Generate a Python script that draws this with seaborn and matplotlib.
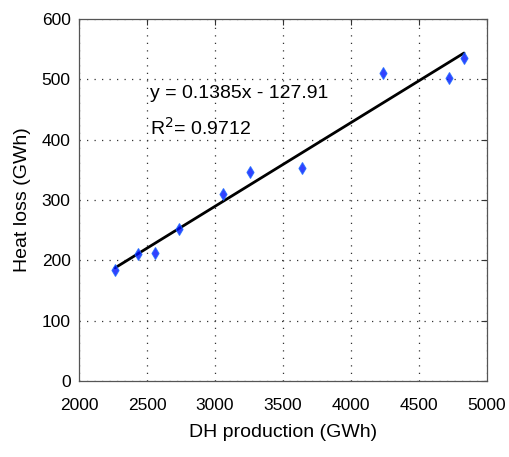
import matplotlib
matplotlib.use("Agg")
from matplotlib import pyplot as plt
import pandas as pd
import seaborn as sns

# DH production vs heat loss (GWh)
dh_production = [2265, 2436, 2559, 2735, 3059, 3257, 3640, 4235, 4721, 4831]
heat_loss = [184, 210, 212, 252, 310, 346, 353, 510, 502, 535]
x_ticks = [2000, 2500, 3000, 3500, 4000, 4500, 5000]
y_ticks = [0, 100, 200, 300, 400, 500, 600]

df = pd.DataFrame({"dh": dh_production, "loss": heat_loss})

sns.set_style("white")
plt.rcParams["font.family"] = ["Liberation Sans", "DejaVu Sans"]
plt.rcParams["text.color"] = "black"
plt.rcParams["axes.labelcolor"] = "black"
plt.rcParams["xtick.color"] = "black"
plt.rcParams["ytick.color"] = "black"

fig = plt.figure(figsize=(5.09, 4.57), dpi=100)
ax = fig.add_axes([79 / 509, 1 - 381 / 457, 408 / 509, 362 / 457])

sns.regplot(data=df, x="dh", y="loss", ax=ax, ci=None, truncate=True,
            marker="d",
            scatter_kws={"s": 36, "color": "#0011ff", "edgecolor": "#1a66ff",
                         "linewidths": 0.8, "zorder": 3},
            line_kws={"color": "black", "linewidth": 2, "zorder": 2})

ax.set_xlim(2000, 5000)
ax.set_ylim(0, 600)
ax.set_xticks(x_ticks)
ax.set_yticks(y_ticks)
ax.grid(True, linestyle=(0, (1, 5)), color="#333333", linewidth=0.9)
ax.tick_params(direction="in", length=4, width=0.8, color="#333333",
               labelsize=12.5, top=True, right=True, pad=12)
ax.tick_params(axis="y", pad=6)
for s in ax.spines.values():
    s.set_color("#555555")
    s.set_linewidth(0.9)

ax.set_xlabel("DH production (GWh)", fontsize=14, labelpad=8)
ax.set_ylabel("Heat loss (GWh)", fontsize=14, labelpad=8)

ax.text(2520, 477, "y = 0.1385x - 127.91", fontsize=14, va="center")
ax.text(2520, 419, "R$^{2}$= 0.9712", fontsize=14, va="center")

fig.savefig("out.png", dpi=100)
